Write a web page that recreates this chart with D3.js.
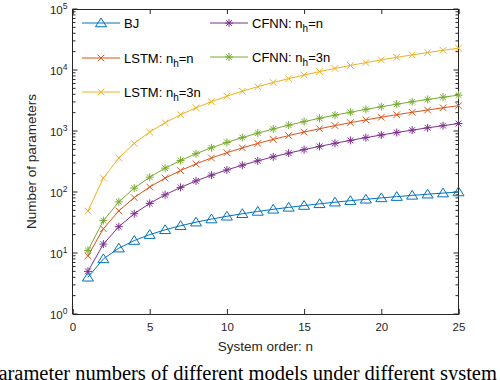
<!DOCTYPE html>
<html>
<head>
<meta charset="utf-8">
<script src="https://cdn.jsdelivr.net/npm/d3@7"></script>
<style>
  body { margin: 0; background: #fff; }
  svg { display: block; font-family: "Liberation Sans", Arial, sans-serif; }
</style>
</head>
<body>
<svg id="chart" width="500" height="380"></svg>
<script>
// System orders
const orders = [1, 2, 3, 4, 5, 6, 7, 8, 9, 10, 11, 12, 13, 14, 15, 16, 17, 18, 19, 20, 21, 22, 23, 24, 25]

// Parameter counts
const bj = [4, 8, 12, 16, 20, 24, 28, 32, 36, 40, 44, 48, 52, 56, 60, 64, 68, 72, 76, 80, 84, 88, 92, 96, 100]
const lstmN = [9, 25, 49, 81, 121, 169, 225, 289, 361, 441, 529, 625, 729, 841, 961, 1089, 1225, 1369, 1521, 1681, 1849, 2025, 2209, 2401, 2601]
const lstm3N = [49, 169, 361, 625, 961, 1369, 1849, 2401, 3025, 3721, 4489, 5329, 6241, 7225, 8281, 9409, 10609, 11881, 13225, 14641, 16129, 17689, 19321, 21025, 22801]
const cfnnN = [5, 14, 27, 44, 65, 90, 119, 152, 189, 230, 275, 324, 377, 434, 495, 560, 629, 702, 779, 860, 945, 1034, 1127, 1224, 1325]
const cfnn3N = [11, 34, 69, 116, 175, 246, 329, 424, 531, 650, 781, 924, 1079, 1246, 1425, 1616, 1819, 2034, 2261, 2500, 2751, 3014, 3289, 3576, 3875]

const xTicks = [0, 5, 10, 15, 20, 25]
const yExponents = [0, 1, 2, 3, 4, 5]

const series = [
  { name: 'BJ', sub: null, values: bj, color: '#0072BD', marker: 'triangle' },
  { name: 'LSTM: n', sub: ['h', '=n'], values: lstmN, color: '#D95319', marker: 'x' },
  { name: 'LSTM: n', sub: ['h', '=3n'], values: lstm3N, color: '#EDB120', marker: 'x' },
  { name: 'CFNN: n', sub: ['h', '=n'], values: cfnnN, color: '#7E2F8E', marker: 'star' },
  { name: 'CFNN: n', sub: ['h', '=3n'], values: cfnn3N, color: '#77AC30', marker: 'star' }
]

const box = { left: 72.5, right: 458.5, top: 9, bottom: 314 }
const axisColor = '#262626'

const svg = d3.select('#chart')

const x = d3.scaleLinear().domain([0, 25]).range([box.left, box.right])
const y = d3.scaleLog().domain([1, 1e5]).range([box.bottom, box.top])

// Draw a marker at (cx, cy)
function drawMarker (g, type, cx, cy, color) {
  if (type === 'triangle') {
    const s = 5
    g.append('path')
      .attr('d', `M${cx},${cy - s}L${cx + s * 1.1},${cy + s * 0.75}L${cx - s * 1.1},${cy + s * 0.75}Z`)
      .attr('fill', 'none').attr('stroke', color).attr('stroke-width', 1)
  } else if (type === 'x') {
    const s = 3.3
    g.append('path')
      .attr('d', `M${cx - s},${cy - s}L${cx + s},${cy + s}M${cx - s},${cy + s}L${cx + s},${cy - s}`)
      .attr('stroke', color).attr('stroke-width', 1)
  } else {
    const s = 4
    const d = s * 0.72
    g.append('path')
      .attr('d', `M${cx},${cy - s}L${cx},${cy + s}M${cx - s},${cy}L${cx + s},${cy}` +
        `M${cx - d},${cy - d}L${cx + d},${cy + d}M${cx - d},${cy + d}L${cx + d},${cy - d}`)
      .attr('stroke', color).attr('stroke-width', 1)
  }
}

// Axes: MATLAB style inward ticks on all sides
const xAxisBottom = d3.axisBottom(x).tickValues(xTicks).tickSize(-5).tickPadding(9)
svg.append('g')
  .attr('transform', `translate(0,${box.bottom})`)
  .call(xAxisBottom)
  .call(g => {
    g.select('.domain').attr('stroke', axisColor)
    g.selectAll('.tick line').attr('stroke', axisColor)
    g.selectAll('.tick text').attr('fill', axisColor).attr('font-size', 11.5)
      .attr('font-family', '"Liberation Sans", Arial, sans-serif')
  })

svg.append('g')
  .attr('transform', `translate(0,${box.top})`)
  .call(d3.axisTop(x).tickValues(xTicks).tickSize(-5).tickFormat(''))
  .call(g => {
    g.select('.domain').attr('stroke', axisColor)
    g.selectAll('.tick line').attr('stroke', axisColor)
  })

// Minor log ticks
const minorTicks = []
yExponents.slice(0, -1).forEach(e => {
  for (let k = 2; k <= 9; k++) minorTicks.push(k * Math.pow(10, e))
})
const majorTicks = yExponents.map(e => Math.pow(10, e))

const yLeft = svg.append('g')
yLeft.append('line')
  .attr('x1', box.left).attr('x2', box.left)
  .attr('y1', box.top).attr('y2', box.bottom)
  .attr('stroke', axisColor)
const yRight = svg.append('g')
yRight.append('line')
  .attr('x1', box.right).attr('x2', box.right)
  .attr('y1', box.top).attr('y2', box.bottom)
  .attr('stroke', axisColor)

;[[yLeft, box.left, 1], [yRight, box.right, -1]].forEach(([g, x0, dir]) => {
  g.selectAll('line.major').data(majorTicks).join('line')
    .attr('class', 'major')
    .attr('x1', x0).attr('x2', x0 + dir * 5)
    .attr('y1', d => y(d)).attr('y2', d => y(d))
    .attr('stroke', axisColor)
  g.selectAll('line.minor').data(minorTicks).join('line')
    .attr('class', 'minor')
    .attr('x1', x0).attr('x2', x0 + dir * 3)
    .attr('y1', d => y(d)).attr('y2', d => y(d))
    .attr('stroke', axisColor)
})

// y tick labels 10^k
const yLabels = svg.append('g').attr('fill', axisColor)
yExponents.forEach(e => {
  const t = yLabels.append('text')
    .attr('x', box.left - 5)
    .attr('y', y(Math.pow(10, e)) + 5)
    .attr('text-anchor', 'end')
    .attr('font-size', 11.5)
  t.append('tspan').text('10')
  t.append('tspan').attr('dy', -5).attr('font-size', 8.5).text(e)
})

// Axis titles
svg.append('text')
  .attr('x', (box.left + box.right) / 2)
  .attr('y', 351)
  .attr('text-anchor', 'middle')
  .attr('font-size', 13.5)
  .attr('fill', axisColor)
  .text('System order: n')

svg.append('text')
  .attr('transform', `translate(36,${(box.top + box.bottom) / 2}) rotate(-90)`)
  .attr('text-anchor', 'middle')
  .attr('font-size', 13.5)
  .attr('fill', axisColor)
  .text('Number of parameters')

// Lines and markers
const line = d3.line()
  .x((d, i) => x(orders[i]))
  .y(d => y(d))

const plot = svg.append('g')
series.forEach(s => {
  plot.append('path')
    .datum(s.values)
    .attr('d', line)
    .attr('fill', 'none')
    .attr('stroke', s.color)
    .attr('stroke-width', 1)
  const mg = plot.append('g')
  s.values.forEach((v, i) => drawMarker(mg, s.marker, x(orders[i]), y(v), s.color))
})

// Legend
const legendPos = [
  { lx: 82, ly: 23 },
  { lx: 82, ly: 58 },
  { lx: 82, ly: 92 },
  { lx: 210, ly: 23 },
  { lx: 210, ly: 57 }
]
const legend = svg.append('g')
series.forEach((s, i) => {
  const p = legendPos[i]
  legend.append('line')
    .attr('x1', p.lx).attr('x2', p.lx + 38)
    .attr('y1', p.ly).attr('y2', p.ly)
    .attr('stroke', s.color)
  drawMarker(legend, s.marker, p.lx + 19, p.ly, s.color)
  const t = legend.append('text')
    .attr('x', p.lx + 42)
    .attr('y', p.ly + 4.5)
    .attr('font-size', 13)
    .attr('fill', '#000')
  t.append('tspan').text(s.name)
  if (s.sub) {
    t.append('tspan').attr('dy', 4).attr('font-size', 10).text(s.sub[0])
    t.append('tspan').attr('dy', -4).text(s.sub[1])
  }
})

// Caption (cut off by the page edges, as in the source figure)
svg.append('text')
  .attr('x', -13)
  .attr('y', 380)
  .attr('font-family', '"Liberation Serif", "DejaVu Serif", serif')
  .attr('font-size', 20.5)
  .attr('fill', '#000')
  .text('Parameter numbers of different models under different system orders.')
</script>
</body>
</html>
